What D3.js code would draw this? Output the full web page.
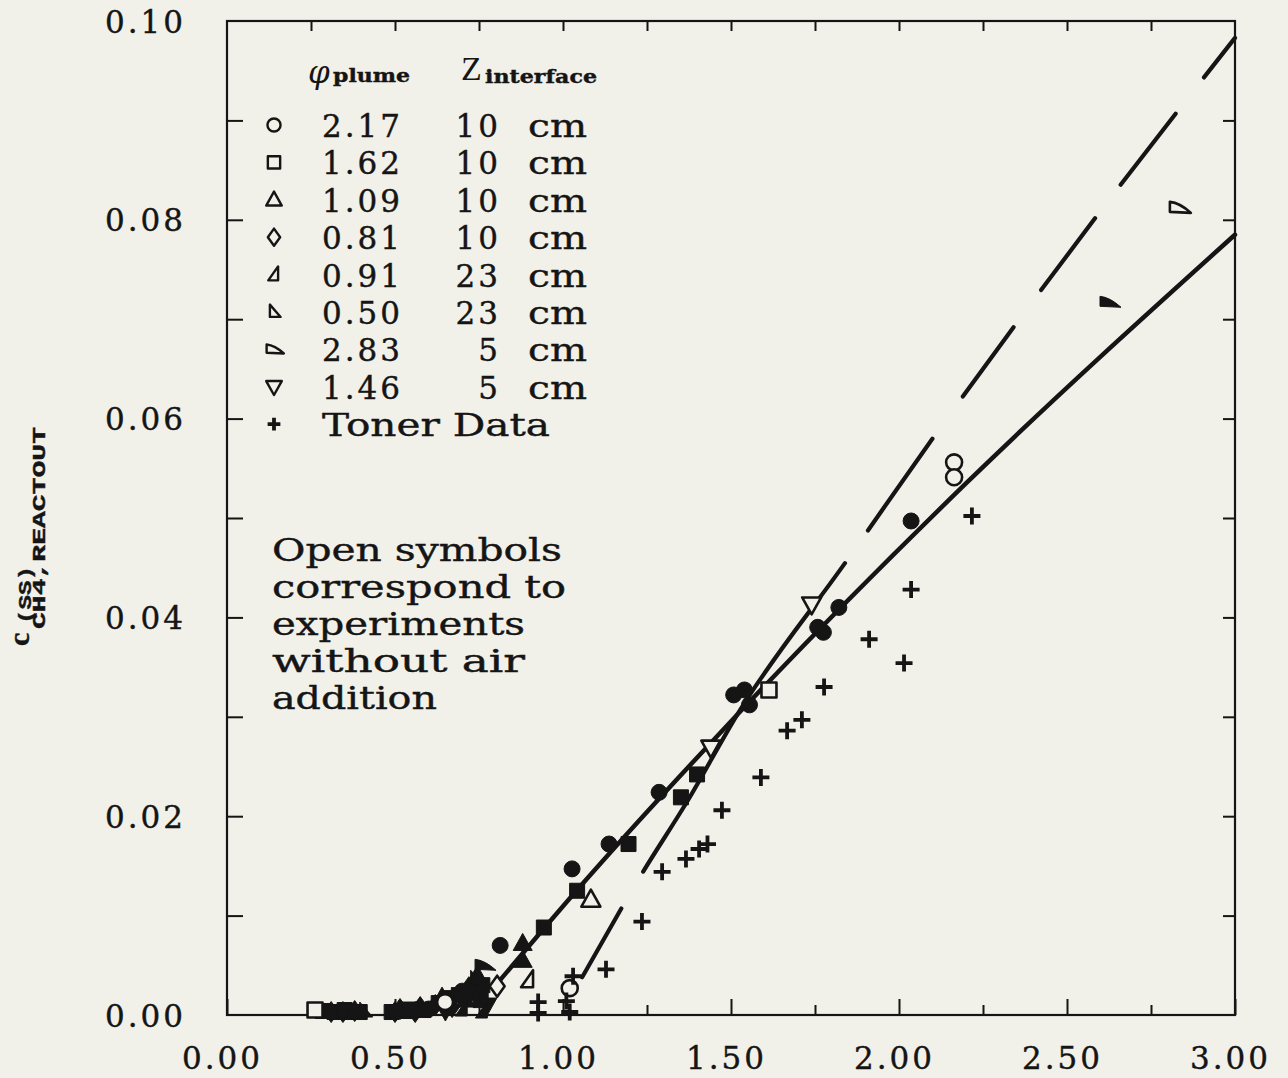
<!DOCTYPE html>
<html>
<head>
<meta charset="utf-8">
<script src="https://cdnjs.cloudflare.com/ajax/libs/d3/7.8.5/d3.min.js"></script>
<style>
  html, body { margin: 0; padding: 0; background: #f1f0e9; }
  svg { display: block; }
  .ink { fill: #151515; stroke: #151515; stroke-width: 0.4px; paint-order: stroke; }
</style>
</head>
<body>
<svg id="chart" width="1288" height="1078"></svg>
<script>
// ---- axis ticks ----
const xMajorTicks = [0, 0.5, 1.0, 1.5, 2.0, 2.5, 3.0];
const xMinorTicks = [0.25, 0.75, 1.25, 1.75, 2.25, 2.75];
const xTopTicks = [0.25, 0.5, 0.75, 1.0, 1.25, 1.5, 1.75, 2.0, 2.25, 2.5, 2.75];
const yLabelTicks = [0, 0.02, 0.04, 0.06, 0.08, 0.10];
const ySideTicks = [0.01, 0.02, 0.03, 0.04, 0.05, 0.06, 0.07, 0.08, 0.09];

// ---- legend ----
const legendPhi = ["2.17", "1.62", "1.09", "0.81", "0.91", "0.50", "2.83", "1.46"];
const legendZ = ["10", "10", "10", "10", "23", "23", "5", "5"];
const legendShapes = ["circle", "square", "triUp", "diamond", "wedgeA", "wedgeB", "wedgeC", "triDown"];
const noteLines = ["Open symbols", "correspond to", "experiments", "without air", "addition"];

// ---- measurements: [phi_plume, C_CH4] ----
const openCircles = [[2.164, 0.0556], [2.164, 0.0541], [0.649, 0.0013], [1.020, 0.0027]];
const filledCircles = [[0.813, 0.0070], [1.027, 0.0147], [1.137, 0.0172], [1.286, 0.0224],
  [1.508, 0.0322], [1.540, 0.0327], [1.555, 0.0312], [1.758, 0.0390], [1.775, 0.0385],
  [1.821, 0.0410], [2.036, 0.0497], [0.600, 0.0006], [0.700, 0.0024]];
const openSquares = [[1.613, 0.0327], [0.262, 0.0005]];
const filledSquares = [[0.943, 0.0088], [1.042, 0.0125], [1.195, 0.0172], [1.351, 0.0219],
  [1.399, 0.0242], [0.285, 0.0004], [0.320, 0.0003], [0.350, 0.0005], [0.370, 0.0003],
  [0.395, 0.0003], [0.490, 0.0003], [0.530, 0.0004], [0.585, 0.0005], [0.630, 0.0012],
  [0.660, 0.0017], [0.690, 0.0020], [0.730, 0.0022], [0.760, 0.0030], [0.755, 0.0015]];
const openTrianglesUp = [[1.083, 0.0116]];
const filledTrianglesUp = [[0.880, 0.0072], [0.880, 0.0055], [0.710, 0.0015], [0.640, 0.0018],
  [0.745, 0.0040]];
const openDiamonds = [[0.804, 0.0029]];
const filledDiamonds = [[0.310, 0.0003], [0.345, 0.0003], [0.380, 0.0004], [0.500, 0.0003],
  [0.515, 0.0006], [0.560, 0.0003], [0.575, 0.0008], [0.620, 0.0010], [0.670, 0.0008],
  [0.720, 0.0028]];
const openWedgesA = [[0.896, 0.0035]];
const filledWedgesA = [[0.760, 0.0004], [0.700, 0.0006]];
const openWedgesB = [];
const filledWedgesB = [[0.410, 0.0004], [0.740, 0.0036]];
const openWedgesC = [[2.833, 0.0812]];
const filledWedgesC = [[2.625, 0.0717], [0.765, 0.0050]];
const openTrianglesDown = [[1.440, 0.0269], [1.740, 0.0413]];
const filledTrianglesDown = [[0.775, 0.0010], [0.650, 0.0004], [0.545, 0.0006]];
const tonerData = [[0.926, 0.0013], [0.926, 0.0002], [1.030, 0.0039], [1.010, 0.0014],
  [1.020, 0.0003], [1.128, 0.0046], [1.235, 0.0094], [1.295, 0.0144], [1.366, 0.0157],
  [1.405, 0.0167], [1.430, 0.0172], [1.473, 0.0206], [1.589, 0.0239], [1.667, 0.0286],
  [1.711, 0.0297], [1.777, 0.0330], [1.911, 0.0378], [2.015, 0.0354], [2.036, 0.0428],
  [2.217, 0.0502]];

// ---- correlation curves ----
const mainCurve = [[0.80, 0.0030], [1.04, 0.0125], [1.46, 0.0281], [2.20, 0.0535], [3.00, 0.0785]];
const tonerCurve = [[1.057, 0.0038], [1.24, 0.0145], [1.37, 0.0215], [1.52, 0.0303],
  [1.84, 0.0455], [2.10, 0.0580], [2.58, 0.0800], [3.00, 0.0983]];

// ---------------------------------------------------------------
const INK = "#151515";
const PAPER = "#f1f0e9";
const SERIF = "'DejaVu Serif', serif";

const svg = d3.select("#chart");
const x = d3.scaleLinear().domain([0, 3]).range([227, 1235]);
const y = d3.scaleLinear().domain([0, 0.1]).range([1015, 21]);

// tick marks on all four sides (pointing inward)
function ticks(axis, vals, size, transform) {
  const g = svg.append("g").attr("transform", transform)
    .call(axis.tickValues(vals).tickSizeInner(size).tickSizeOuter(0).tickFormat(""));
  g.select(".domain").remove();
  g.selectAll("text").remove();
  g.selectAll("line").attr("stroke", INK).attr("stroke-width", 2);
  return g;
}
ticks(d3.axisBottom(x), xMajorTicks, -16, "translate(0,1015)");
ticks(d3.axisBottom(x), xMinorTicks, -10, "translate(0,1015)");
ticks(d3.axisTop(x), xTopTicks, -10, "translate(0,21)");
ticks(d3.axisLeft(y), ySideTicks, -16, "translate(227,0)");
ticks(d3.axisRight(y), ySideTicks, -12, "translate(1235,0)");

// frame
svg.append("rect")
  .attr("x", x(0)).attr("y", y(0.1))
  .attr("width", x(3) - x(0)).attr("height", y(0) - y(0.1))
  .attr("fill", "none").attr("stroke", INK).attr("stroke-width", 2.2);

// tick labels
const gx = svg.append("g").attr("transform", "translate(0,1015)")
  .call(d3.axisBottom(x).tickValues(xMajorTicks).tickSize(0).tickFormat(d3.format(".2f")));
gx.select(".domain").remove();
gx.attr("font-family", null).attr("font-size", null);
gx.selectAll("text")
  .attr("class", "ink").attr("y", 54).attr("dy", null).attr("x", -5)
  .attr("font-family", SERIF).attr("font-size", 31).attr("letter-spacing", 3);

const gy = svg.append("g").attr("transform", "translate(227,0)")
  .call(d3.axisLeft(y).tickValues(yLabelTicks).tickSize(0).tickPadding(41).tickFormat(d3.format(".2f")));
gy.select(".domain").remove();
gy.attr("font-family", null).attr("font-size", null);
gy.selectAll("text")
  .attr("class", "ink").attr("dy", "0.36em")
  .attr("font-family", SERIF).attr("font-size", 31).attr("letter-spacing", 3);

// y-axis title: c^(SS)_(CH4,REACTOUT), rotated
const yt = svg.append("g").attr("transform", "translate(0,646) rotate(-90)");
yt.append("text").attr("class", "ink").attr("x", 0).attr("y", 29)
  .attr("font-family", "'Liberation Serif', serif").attr("font-weight", "bold")
  .attr("font-size", 30).text("c");
yt.append("text").attr("class", "ink").attr("x", 22).attr("y", 31)
  .attr("font-family", "'Liberation Mono', monospace").attr("font-weight", "bold").attr("font-size", 19)
  .attr("textLength", 58).attr("lengthAdjust", "spacingAndGlyphs").text("(SS)");
yt.append("text").attr("class", "ink").attr("x", 17).attr("y", 45)
  .attr("font-family", "'Liberation Mono', monospace").attr("font-weight", "bold").attr("font-size", 19)
  .attr("textLength", 202).attr("lengthAdjust", "spacingAndGlyphs").text("CH4,REACTOUT");

// marker outlines in local units
function shapeD(kind, k) {
  const poly = pts => "M" + pts.map(q => (q[0] * k) + "," + (q[1] * k)).join("L") + "Z";
  switch (kind) {
    case "circle": { const r = 8 * k; return `M${r},0A${r},${r},0,1,1,${-r},0A${r},${r},0,1,1,${r},0Z`; }
    case "square": return poly([[-7.5, -7.5], [7.5, -7.5], [7.5, 7.5], [-7.5, 7.5]]);
    case "triUp": return poly([[0, -10], [9.5, 7], [-9.5, 7]]);
    case "triDown": return poly([[-9.5, -7], [9.5, -7], [0, 10]]);
    case "diamond": return poly([[0, -10.5], [7.5, 0], [0, 10.5], [-7.5, 0]]);
    case "wedgeA": return poly([[5, -10], [5, 7], [-7, 7]]);
    case "wedgeB": return poly([[-5, -9], [-5, 6], [8, 6]]);
    case "wedgeC": return `M${-9 * k},${-6 * k}Q${1 * k},${-5 * k} ${12 * k},${5 * k}L${-9 * k},${4 * k}Z`;
    case "plus": return `M${-8.5 * k},0H${8.5 * k}M0,${-8.5 * k}V${8.5 * k}`;
  }
}

// correlation curves
const line = d3.line().x(d => x(d[0])).y(d => y(d[1])).curve(d3.curveMonotoneX);
svg.append("path").datum(tonerCurve).attr("d", line)
  .attr("fill", "none").attr("stroke", INK).attr("stroke-width", 4.2)
  .attr("stroke-linecap", "round")
  .attr("stroke-dasharray", "79 43 369 40 112 52 86 46 90 42 90 46 200");
svg.append("path").datum(mainCurve).attr("d", line)
  .attr("fill", "none").attr("stroke", INK).attr("stroke-width", 4.5)
  .attr("stroke-linecap", "round");

// data markers: filled (air addition) first, then open, then Toner data
const markerSets = [
  { pts: filledSquares, kind: "square", filled: true },
  { pts: filledDiamonds, kind: "diamond", filled: true },
  { pts: filledTrianglesUp, kind: "triUp", filled: true },
  { pts: filledTrianglesDown, kind: "triDown", filled: true },
  { pts: filledWedgesA, kind: "wedgeA", filled: true },
  { pts: filledWedgesB, kind: "wedgeB", filled: true },
  { pts: filledWedgesC, kind: "wedgeC", filled: true },
  { pts: filledCircles, kind: "circle", filled: true },
  { pts: openSquares, kind: "square", filled: false },
  { pts: openDiamonds, kind: "diamond", filled: false },
  { pts: openTrianglesUp, kind: "triUp", filled: false },
  { pts: openTrianglesDown, kind: "triDown", filled: false },
  { pts: openWedgesA, kind: "wedgeA", filled: false },
  { pts: openWedgesB, kind: "wedgeB", filled: false },
  { pts: openWedgesC, kind: "wedgeC", filled: false },
  { pts: openCircles, kind: "circle", filled: false },
];
markerSets.forEach(s => {
  svg.append("g").selectAll("path").data(s.pts).join("path")
    .attr("transform", d => `translate(${x(d[0])},${y(d[1])})`)
    .attr("d", shapeD(s.kind, 1))
    .attr("fill", s.filled ? INK : PAPER)
    .attr("stroke", INK)
    .attr("stroke-width", s.filled ? 1 : 2.6)
    .attr("stroke-linejoin", "round");
});
svg.append("g").selectAll("path").data(tonerData).join("path")
  .attr("transform", d => `translate(${x(d[0])},${y(d[1])})`)
  .attr("d", shapeD("plus", 1))
  .attr("fill", "none").attr("stroke", INK).attr("stroke-width", 3.8);

// legend
const leg = svg.append("g");
leg.append("text").attr("x", 308).attr("y", 83)
  .attr("font-family", SERIF).attr("font-style", "italic")
  .attr("font-size", 31).attr("fill", INK).text("\u03C6");
leg.append("text").attr("class", "ink").attr("x", 333).attr("y", 82)
  .attr("font-family", SERIF).attr("font-weight", "bold").attr("font-size", 18)
  .attr("textLength", 77).attr("lengthAdjust", "spacingAndGlyphs").text("plume");
leg.append("text").attr("x", 461).attr("y", 80)
  .attr("font-family", "'Liberation Serif', serif").attr("font-size", 34)
  .attr("fill", INK).text("Z");
leg.append("text").attr("class", "ink").attr("x", 485).attr("y", 83)
  .attr("font-family", SERIF).attr("font-weight", "bold").attr("font-size", 18)
  .attr("textLength", 112).attr("lengthAdjust", "spacingAndGlyphs").text("interface");

const rowY = i => 125 + 37.4 * i;
const rows = leg.selectAll("g.row").data(legendPhi).join("g").attr("class", "row")
  .attr("transform", (d, i) => `translate(0,${rowY(i)})`);
rows.append("path")
  .attr("transform", "translate(274,0)")
  .attr("d", (d, i) => shapeD(legendShapes[i], 0.82))
  .attr("fill", PAPER).attr("stroke", INK).attr("stroke-width", 2.4)
  .attr("stroke-linejoin", "round");
rows.append("text").attr("class", "ink").attr("x", 322).attr("y", 12)
  .attr("font-family", SERIF).attr("font-size", 31).attr("letter-spacing", 3)
  .text(d => d);
rows.append("text").attr("class", "ink").attr("x", 501).attr("y", 12)
  .attr("text-anchor", "end")
  .attr("font-family", SERIF).attr("font-size", 31).attr("letter-spacing", 3)
  .text((d, i) => legendZ[i]);
rows.append("text").attr("class", "ink").attr("x", 528).attr("y", 12)
  .attr("font-family", SERIF).attr("font-size", 31)
  .attr("textLength", 59).attr("lengthAdjust", "spacingAndGlyphs").text("cm");

const tonerRow = leg.append("g").attr("transform", `translate(0,${rowY(8)})`);
tonerRow.append("path").attr("transform", "translate(274,0)")
  .attr("d", shapeD("plus", 0.75)).attr("fill", "none")
  .attr("stroke", INK).attr("stroke-width", 3.8);
tonerRow.append("text").attr("class", "ink").attr("x", 322).attr("y", 12)
  .attr("font-family", SERIF).attr("font-size", 31)
  .attr("textLength", 228).attr("lengthAdjust", "spacingAndGlyphs").text("Toner Data");

// note about open symbols
const noteLengths = [290, 294, 253, 253, 165];
svg.append("g").selectAll("text").data(noteLines).join("text")
  .attr("class", "ink")
  .attr("x", 272).attr("y", (d, i) => 561 + 37 * i)
  .attr("font-family", SERIF).attr("font-size", 31)
  .attr("textLength", (d, i) => noteLengths[i]).attr("lengthAdjust", "spacingAndGlyphs")
  .text(d => d);
</script>
</body>
</html>
